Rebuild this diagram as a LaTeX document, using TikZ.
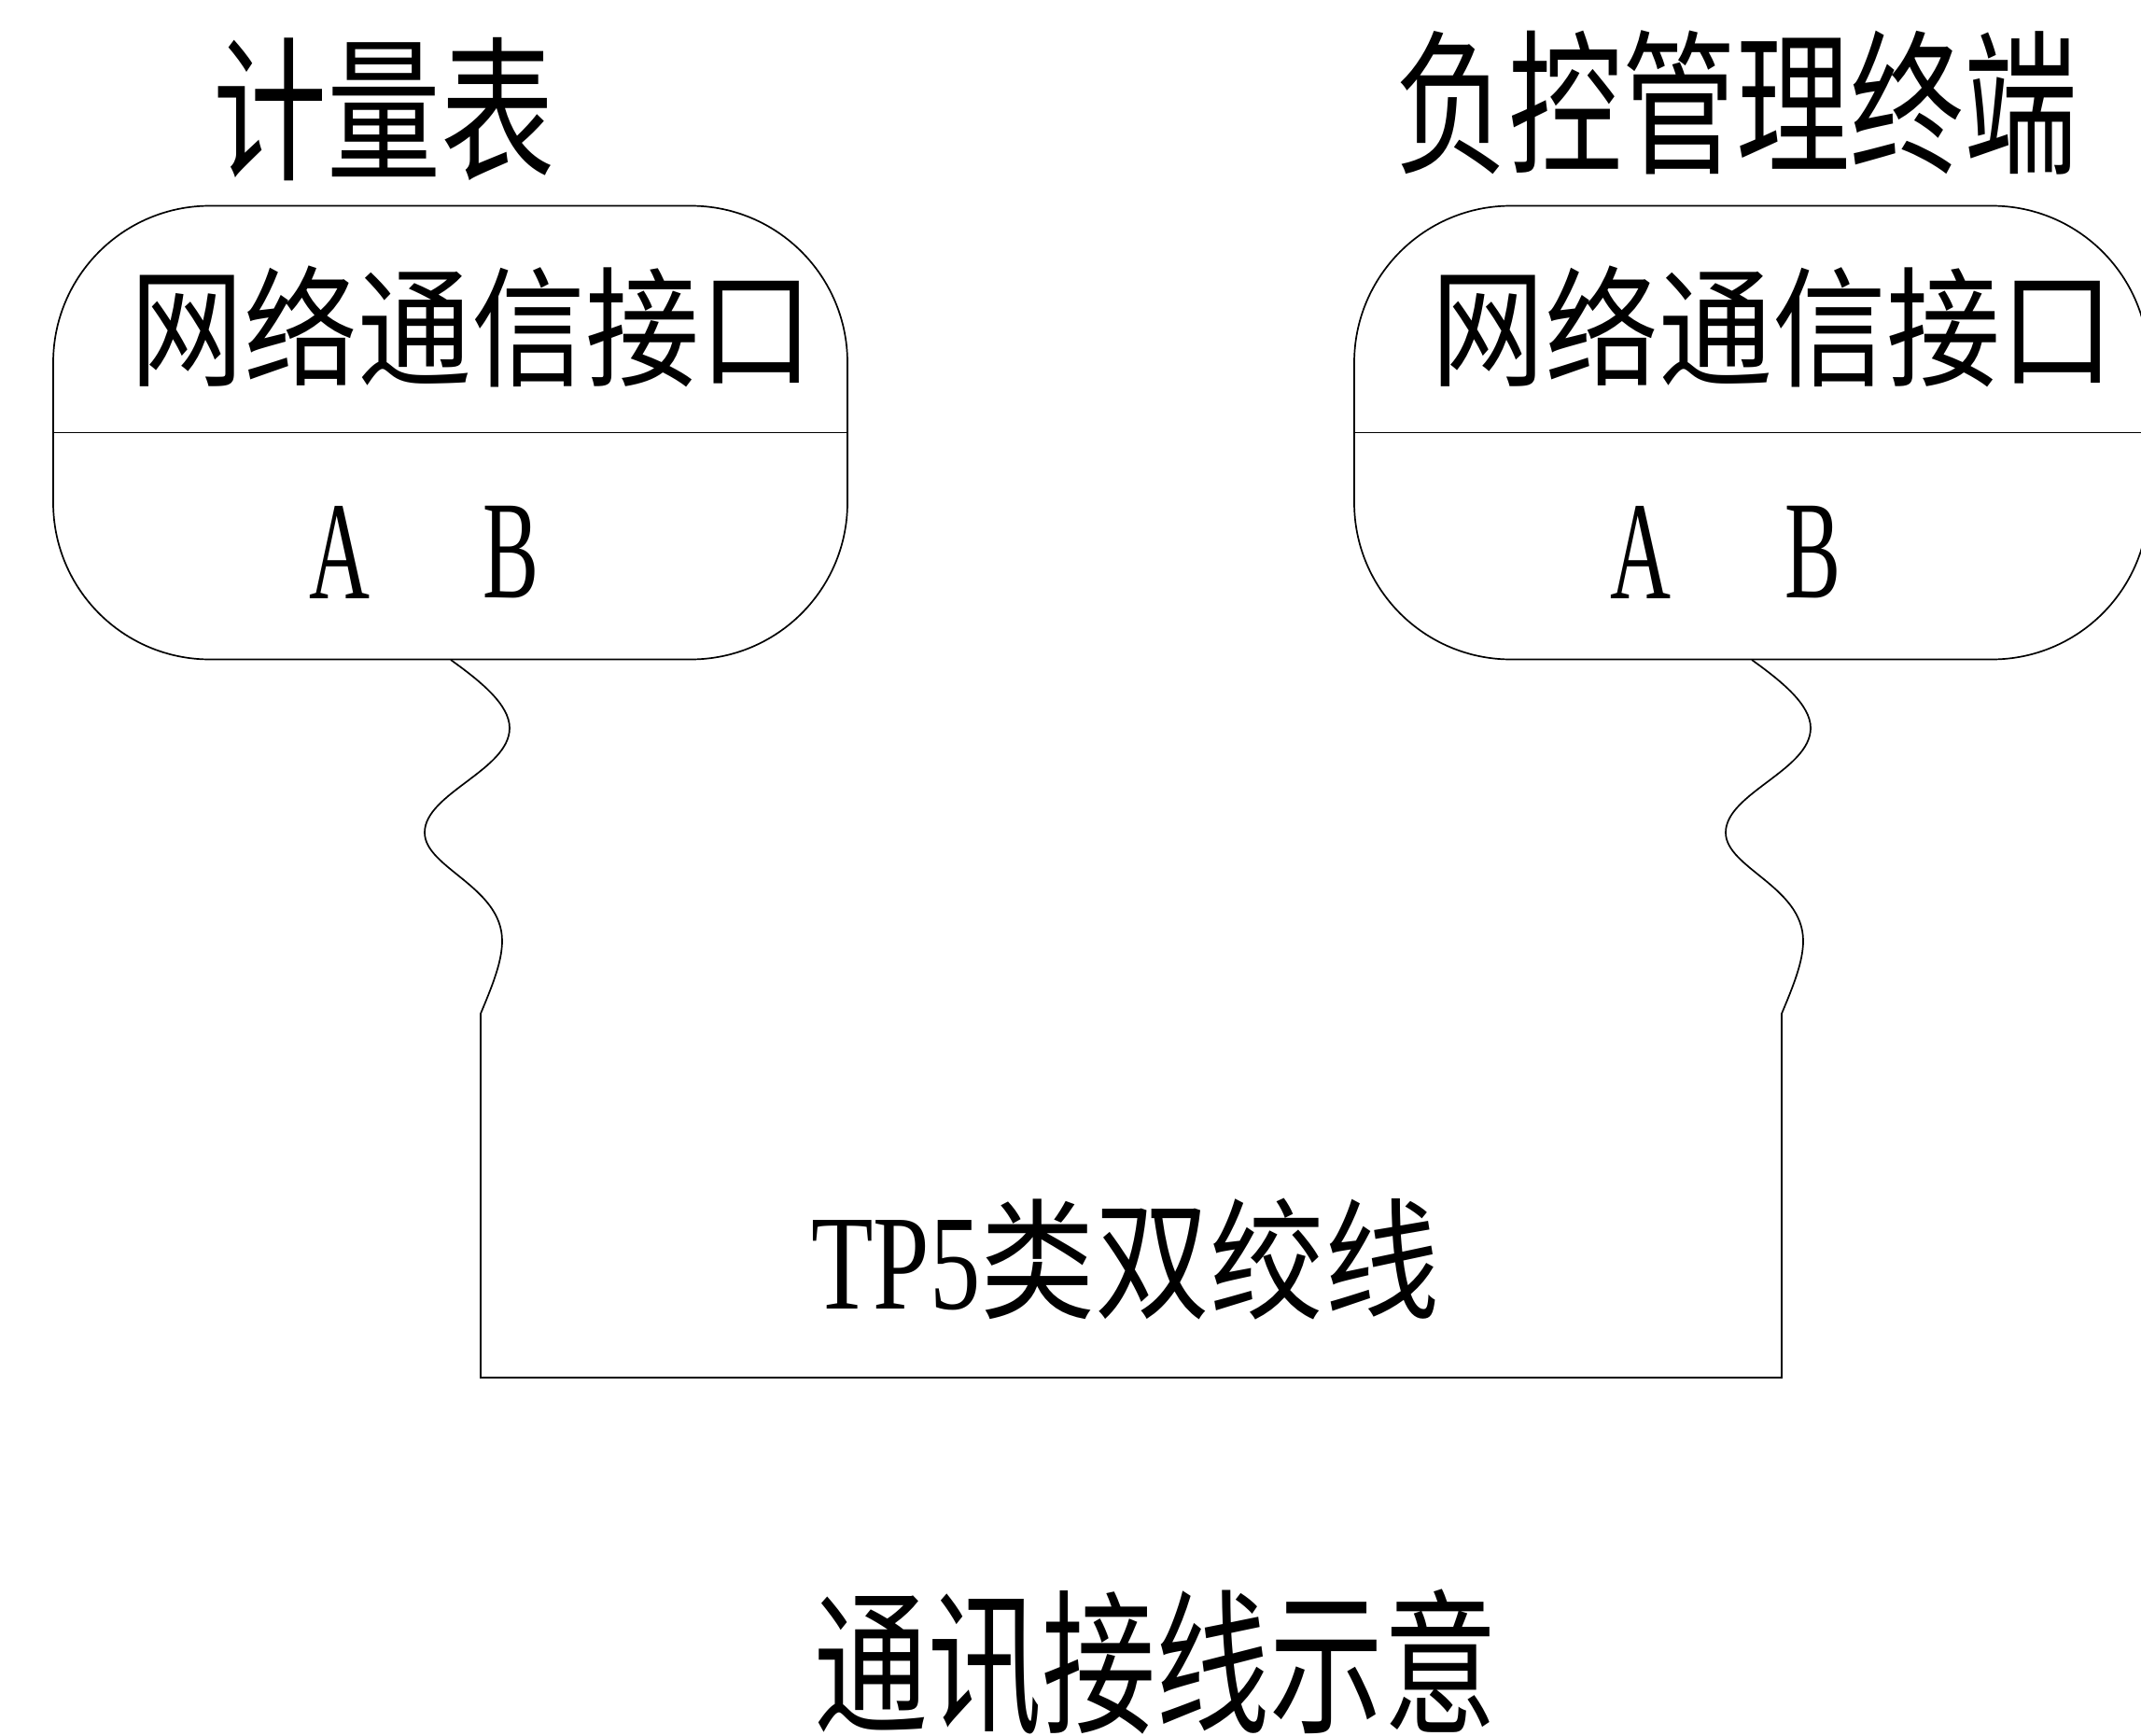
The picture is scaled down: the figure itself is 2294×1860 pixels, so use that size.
\documentclass[tikz,border=0pt]{standalone}
\usepackage{fontspec}
\setmainfont{Liberation Serif}
\newfontfamily\cjk{Noto Sans CJK SC}
\tikzset{
  x=1pt,y=-1pt,
  ln/.style={line width=1.7pt,black},
  portbox/.style={ln,draw,rounded corners=168pt,minimum width=851pt,minimum height=486pt,inner sep=0pt},
  cjktext/.style={inner sep=0pt,font=\fontsize{122}{122}\selectfont\cjk,yscale=1.14},
  cjktitle/.style={cjktext,yscale=1.2},
  pinlabel/.style={inner sep=0pt,font=\fontsize{150}{150}\selectfont,xscale=0.6},
}
\begin{document}
\begin{tikzpicture}
\useasboundingbox (0,0) rectangle (2294,1860);
\node[portbox] (meter) at (482.5,463.5) {};
\node[portbox] (load) at (1876.5,463.5) {};
\draw[ln] (meter.west) -- (meter.east);
\draw[ln] (load.west) -- (load.east);
\node[cjktitle] (meterTitle) at (411,117) {计量表};
\node[cjktitle] (loadTitle) at (1860,110) {负控管理终端};
\node[cjktext] (meterIface) at (505,350) {网络通信接口};
\node[cjktext] (loadIface) at (1899,350) {网络通信接口};
\node[pinlabel] (meterA) at (364,592) {A};
\node[pinlabel] (meterB) at (548,592) {B};
\node[pinlabel] (loadA) at (1758,592) {A};
\node[pinlabel] (loadB) at (1942,592) {B};
\node[inner sep=0pt] (cable) at (1206,1349) {\fontsize{145}{145}\selectfont\scalebox{0.75}[1]{TP5}\fontsize{123}{123}\selectfont\cjk\scalebox{1}[1.14]{类双绞线}};
\node[cjktitle] (caption) at (1238,1782) {通讯接线示意};
\coordinate (meterTap) at (483,707);
\coordinate (loadTap) at (1877,707);
\coordinate (meterDrop) at (515,1086);
\coordinate (loadDrop) at (1909,1086);
\coordinate (meterCorner) at (515,1476);
\coordinate (loadCorner) at (1909,1476);
\draw[ln,line join=miter] (meterTap) .. controls (515,730) and (546,755) .. (546,780)
  .. controls (546,825) and (455,850) .. (455,892)
  .. controls (455,930) and (538,950) .. (538,1008)
  .. controls (538,1030) and (528,1055) .. (meterDrop)
  -- (meterCorner) -- (loadCorner) -- (loadDrop)
  .. controls (1922,1055) and (1932,1030) .. (1932,1008)
  .. controls (1932,950) and (1849,930) .. (1849,892)
  .. controls (1849,850) and (1940,825) .. (1940,780)
  .. controls (1940,755) and (1909,730) .. (loadTap);
\end{tikzpicture}
\end{document}
